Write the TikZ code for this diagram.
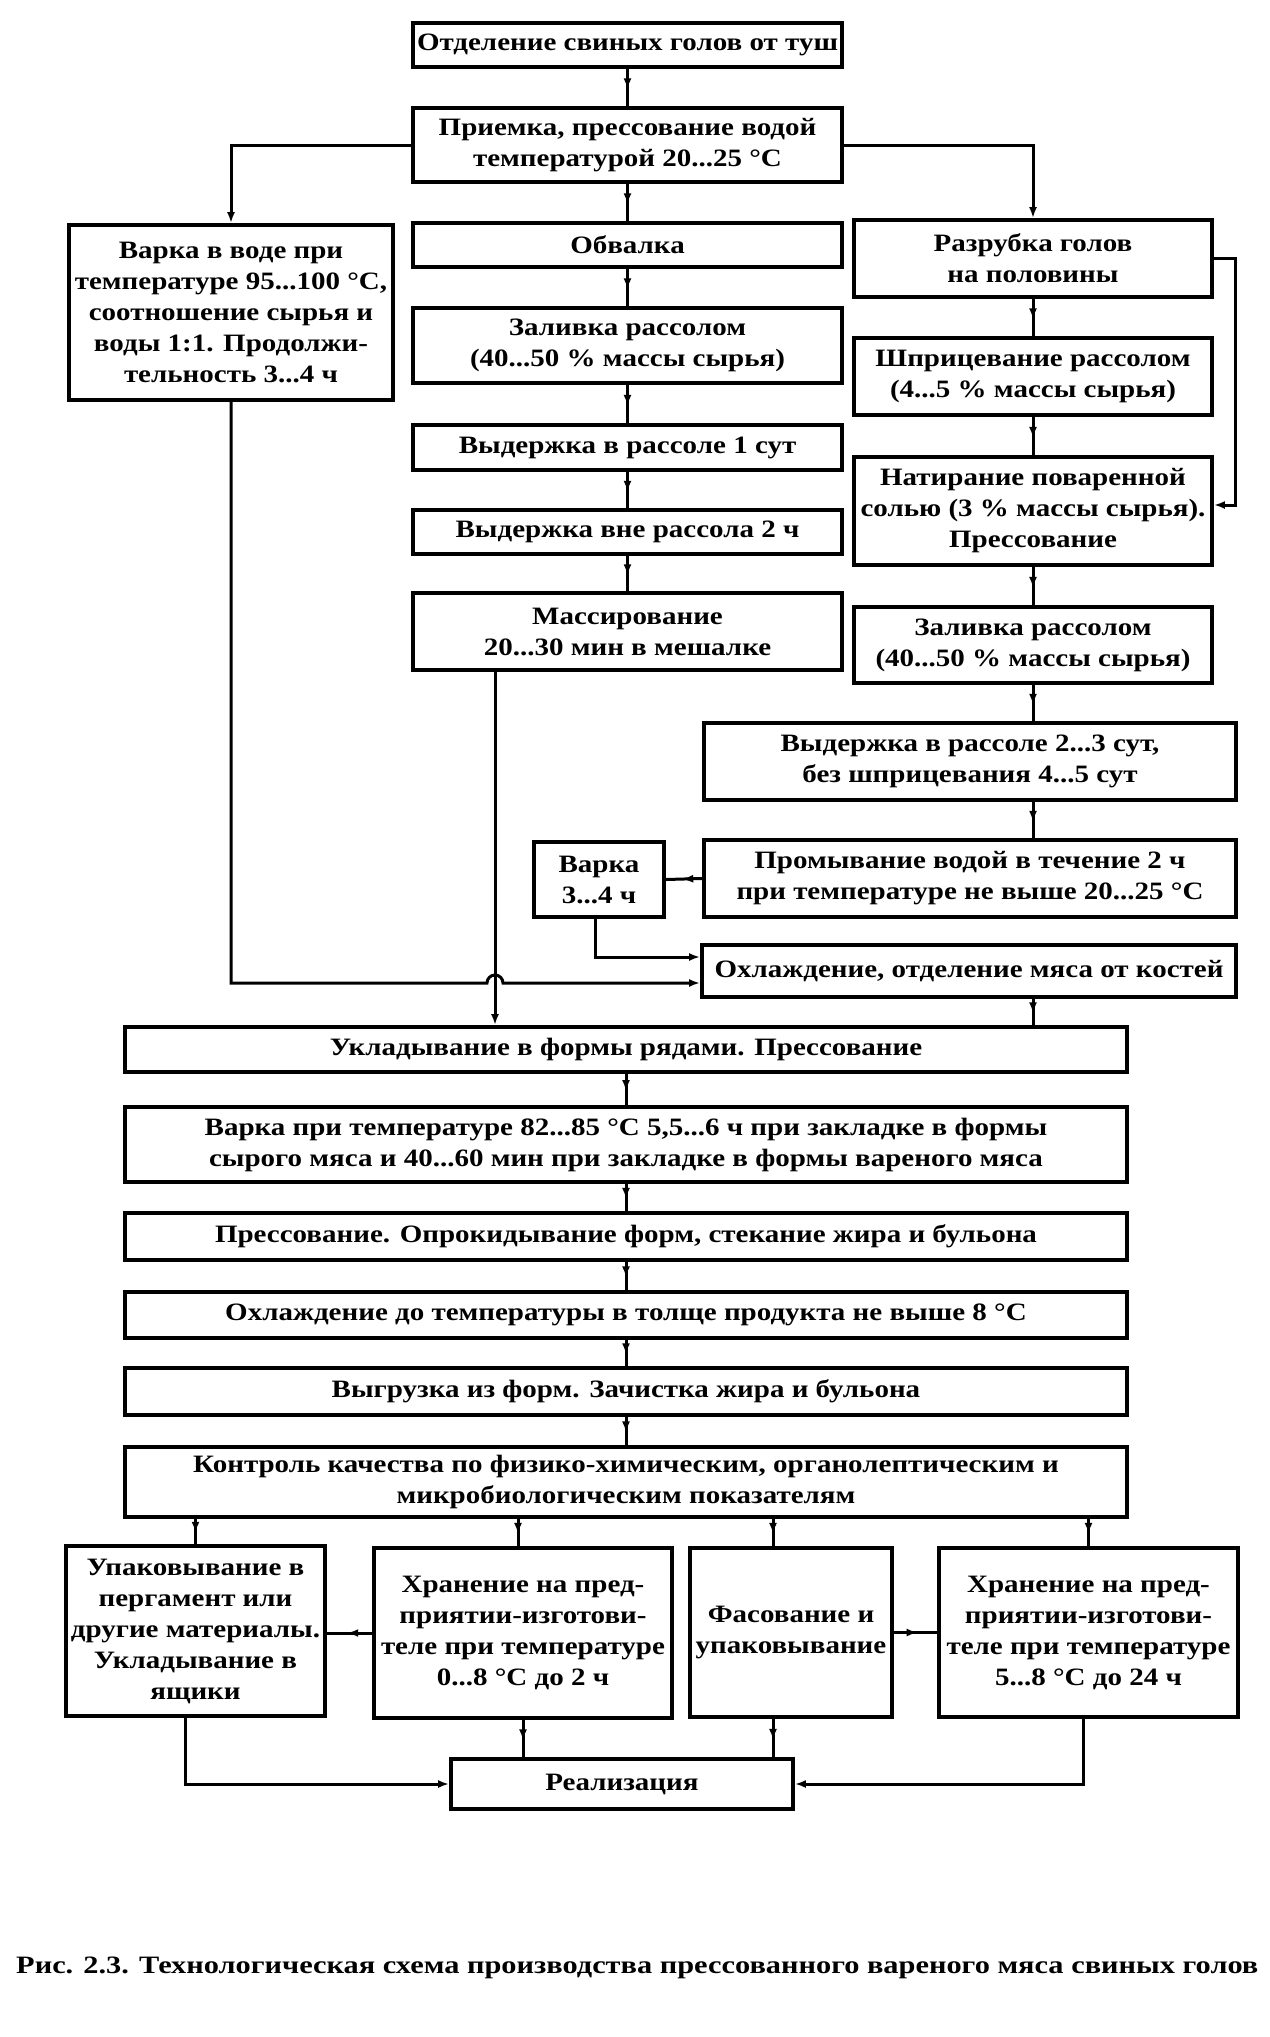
\documentclass[tikz,border=0pt]{standalone}
\usepackage{fontspec}
\setmainfont[FakeStretch=1.16]{Liberation Serif}
\newfontfamily\capfamily[FakeStretch=1.215]{Liberation Serif}
\usetikzlibrary{arrows.meta,decorations.markings}
\newcommand{\boxfont}{\fontsize{25}{31}\selectfont\bfseries}
\newcommand{\capfont}{\capfamily\fontsize{25}{31}\selectfont\bfseries}
\tikzset{
  bx/.style={draw, line width=3.8pt, inner sep=0pt, align=center, font=\boxfont},
  conn/.style={line width=3pt},
  arr/.style={conn, -{Latex[length=11pt,width=8pt]}},
  midarr/.style={conn, postaction={decorate},
    decoration={markings, mark=at position 0.55 with {\arrow{Latex[length=11pt,width=8pt]}}}}
}
\begin{document}
\begin{tikzpicture}[x=1pt,y=-1pt]
\useasboundingbox[fill=white] (0,0) rectangle (1269,2037);
% ---- boxes ----
\node[bx, minimum width=429pt, minimum height=44pt] (b1) at (627.5,45) {Отделение свиных голов от туш};
\node[bx, minimum width=429pt, minimum height=74pt] (b2) at (627.5,145) {Приемка, прессование водой\\температурой 20...25 °С};
\node[bx, minimum width=324pt, minimum height=175pt] (varv) at (231,312.5) {Варка в воде при\\температуре 95...100 °С,\\соотношение сырья и\\воды 1:1. Продолжи-\\тельность 3...4 ч};
\node[bx, minimum width=429pt, minimum height=44pt] (obv) at (627.5,245) {Обвалка};
\node[bx, minimum width=358pt, minimum height=77pt] (razr) at (1033,258.5) {Разрубка голов\\на половины};
\node[bx, minimum width=429pt, minimum height=75pt] (zal1) at (627.5,345.5) {Заливка рассолом\\(40...50 \% массы сырья)};
\node[bx, minimum width=358pt, minimum height=77pt] (shpr) at (1033,376.5) {Шприцевание рассолом\\(4...5 \% массы сырья)};
\node[bx, minimum width=429pt, minimum height=45pt] (vyd1) at (627.5,447.5) {Выдержка в рассоле 1 сут};
\node[bx, minimum width=358pt, minimum height=108pt] (nat) at (1033,511) {Натирание поваренной\\солью (3 \% массы сырья).\\Прессование};
\node[bx, minimum width=429pt, minimum height=44pt] (vyd2) at (627.5,532) {Выдержка вне рассола 2 ч};
\node[bx, minimum width=429pt, minimum height=77pt] (mass) at (627.5,631.5) {Массирование\\20...30 мин в мешалке};
\node[bx, minimum width=358pt, minimum height=76pt] (zal2) at (1033,645) {Заливка рассолом\\(40...50 \% массы сырья)};
\node[bx, minimum width=532pt, minimum height=77pt] (vyd3) at (970,761.5) {Выдержка в рассоле 2...3 сут,\\без шприцевания 4...5 сут};
\node[bx, minimum width=130pt, minimum height=75pt] (var34) at (599,879.5) {Варка\\3...4 ч};
\node[bx, minimum width=532pt, minimum height=77pt] (prom) at (970,878.5) {Промывание водой в течение 2 ч\\при температуре не выше 20...25 °С};
\node[bx, minimum width=534pt, minimum height=52pt] (ohl) at (969,971) {Охлаждение, отделение мяса от костей};
\node[bx, minimum width=1002pt, minimum height=45pt] (ukl) at (626,1049.5) {Укладывание в формы рядами. Прессование};
\node[bx, minimum width=1002pt, minimum height=75pt] (varf) at (626,1144.5) {Варка при температуре 82...85 °С 5,5...6 ч при закладке в формы\\сырого мяса и 40...60 мин при закладке в формы вареного мяса};
\node[bx, minimum width=1002pt, minimum height=47pt] (press) at (626,1236.5) {Прессование. Опрокидывание форм, стекание жира и бульона};
\node[bx, minimum width=1002pt, minimum height=46pt] (ohl2) at (626,1315) {Охлаждение до температуры в толще продукта не выше 8 °С};
\node[bx, minimum width=1002pt, minimum height=47pt] (vygr) at (626,1391.5) {Выгрузка из форм. Зачистка жира и бульона};
\node[bx, minimum width=1002pt, minimum height=70pt] (kontr) at (626,1482) {Контроль качества по физико-химическим, органолептическим и\\микробиологическим показателям};
\node[bx, minimum width=259pt, minimum height=170pt] (upak) at (195.5,1631) {Упаковывание в\\пергамент или\\другие материалы.\\Укладывание в\\ящики};
\node[bx, minimum width=298pt, minimum height=170pt] (hr1) at (523,1633) {Хранение на пред-\\приятии-изготови-\\теле при температуре\\0...8 °С до 2 ч};
\node[bx, minimum width=202pt, minimum height=169pt] (fas) at (791,1632.5) {Фасование и\\упаковывание};
\node[bx, minimum width=299pt, minimum height=169pt] (hr2) at (1088.5,1632.5) {Хранение на пред-\\приятии-изготови-\\теле при температуре\\5...8 °С до 24 ч};
\node[bx, minimum width=342pt, minimum height=50pt] (real) at (622,1784) {Реализация};
% caption
\node[anchor=west, inner sep=0pt, font=\capfont] (cap) at (16,1968) {Рис. 2.3. Технологическая схема производства прессованного вареного мяса свиных голов};
% ---- connectors: top ----
\draw[midarr] (b1.south) -- (b2.north);
\draw[midarr] (b2.south) -- (obv.north);
\draw[arr] (b2.west) -| (varv.north);
\draw[arr] (b2.east) -| (razr.north);
\draw[midarr] (obv.south) -- (zal1.north);
\draw[midarr] (zal1.south) -- (vyd1.north);
\draw[midarr] (vyd1.south) -- (vyd2.north);
\draw[midarr] (vyd2.south) -- (mass.north);
\draw[midarr] (razr.south) -- (shpr.north);
\draw[midarr] (shpr.south) -- (nat.north);
\draw[midarr] (nat.south) -- (zal2.north);
\draw[arr] (razr.east) -- ++(22,0) coordinate (rc) |- ([yshift=6pt]nat.east);
\draw[midarr] (zal2.south) -- (zal2.south |- vyd3.north);
\draw[midarr] (zal2.south |- vyd3.south) -- (zal2.south |- prom.north);
\draw[midarr] (prom.west) -- (var34.east);
\draw[arr] ([xshift=-4pt]var34.south) |- ([yshift=14pt]ohl.west);
% left branch with hop over the massage line
\coordinate (m1) at ([xshift=-132.5pt]mass.south);
\coordinate (hy) at ([yshift=-12pt]ohl.west);
\draw[arr] (varv.south) |- ([xshift=-8pt]m1 |- hy) arc[start angle=180, end angle=0, radius=8pt] -- (hy);
\draw[arr] (m1) -- (m1 |- ukl.north);
\draw[midarr] (zal2.south |- ohl.south) -- (zal2.south |- ukl.north);
% ---- connectors: main column ----
\draw[midarr] (ukl.south) -- (varf.north);
\draw[midarr] (varf.south) -- (press.north);
\draw[midarr] (press.south) -- (ohl2.north);
\draw[midarr] (ohl2.south) -- (vygr.north);
\draw[midarr] (vygr.south) -- (kontr.north);
% ---- connectors: bottom ----
\draw[midarr] (upak.north |- kontr.south) -- (upak.north);
\draw[midarr] ([xshift=-5pt]hr1.north |- kontr.south) -- ([xshift=-5pt]hr1.north);
\draw[midarr] ([xshift=-18pt]fas.north |- kontr.south) -- ([xshift=-18pt]fas.north);
\draw[midarr] (hr2.north |- kontr.south) -- (hr2.north);
\draw[midarr] (hr1.west) -- (hr1.west -| upak.east);
\draw[midarr] (fas.east) -- (fas.east -| hr2.west);
\draw[arr] ([xshift=-10pt]upak.south) |- (real.west);
\draw[midarr] (hr1.south) -- (hr1.south |- real.north);
\draw[midarr] ([xshift=-18pt]fas.south) -- ([xshift=-18pt]fas.south |- real.north);
\draw[arr] ([xshift=-5pt]hr2.south) |- (real.east);
\end{tikzpicture}
\end{document}
